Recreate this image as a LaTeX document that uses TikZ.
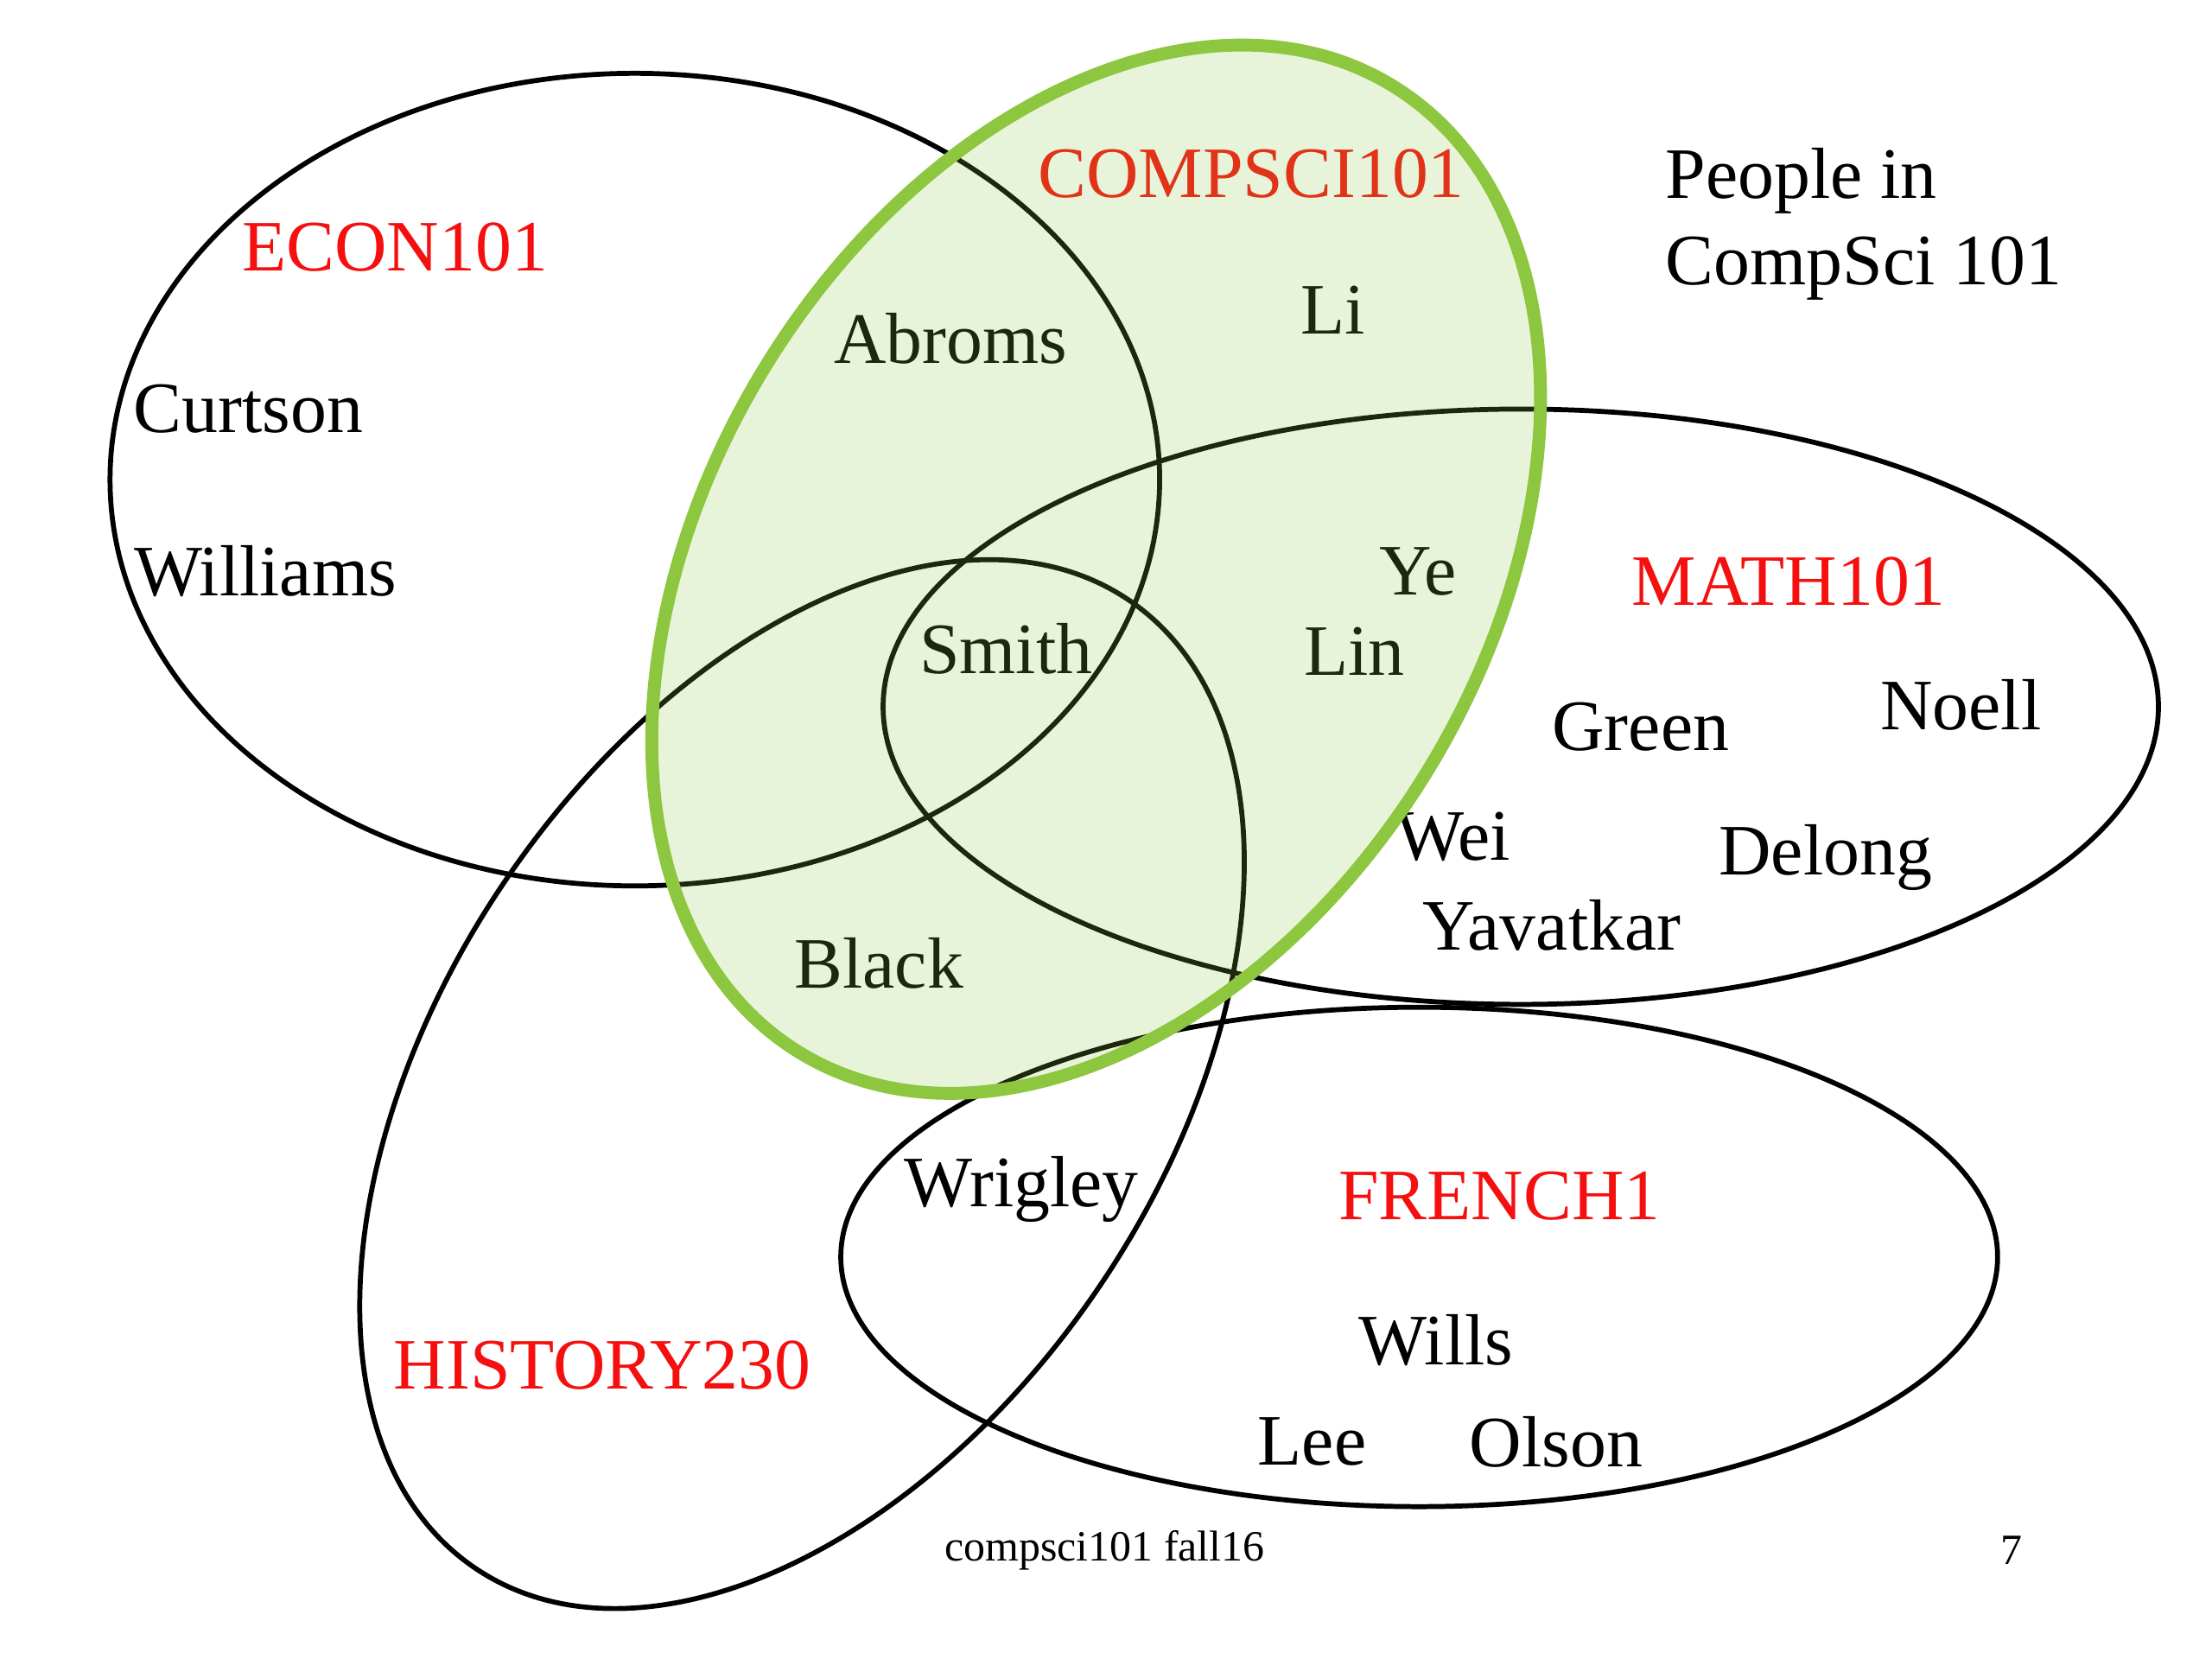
\documentclass[tikz,border=0pt]{standalone}
\usepackage{fontspec}
\setmainfont{Liberation Serif}
\definecolor{csgreen}{RGB}{141,198,63}
\definecolor{lblred}{RGB}{245,15,15}
\tikzset{
  setline/.style={draw=black, line width=1pt},
  person/.style={inner sep=0pt, font=\fontsize{14.6}{17.5}\selectfont},
  course/.style={person, text=lblred},
  foot/.style={inner sep=0pt, font=\fontsize{8.7}{10}\selectfont}
}
\begin{document}
\begin{tikzpicture}
\useasboundingbox (0,0) rectangle (15.68,11.76);
% sets
\draw[setline] (4.50,8.36) ellipse [x radius=3.72, y radius=2.88];
\draw[setline] (10.78,6.75) ellipse [x radius=4.52, y radius=2.11];
\draw[setline] (5.685,4.075) ellipse [x radius=4.14, y radius=2.55, rotate=56];
\draw[setline] (10.06,2.85) ellipse [x radius=4.10, y radius=1.77];
% course labels
\node[course] (econ) at (2.80,10.01) {ECON101};
\node[course] (cs) at (8.87,10.53) {COMPSCI101};
\node[course] (math) at (12.68,7.64) {MATH101};
\node[course] (french) at (10.63,3.28) {FRENCH1};
\node[course] (hist) at (4.27,2.08) {HISTORY230};
% title
\node[person, anchor=base west, align=left] (title) at (11.80,9.74) {People in\\CompSci 101};
% people
\node[person] (curtson) at (1.76,8.86) {Curtson};
\node[person] (williams) at (1.88,7.71) {Williams};
\node[person] (abroms) at (6.74,9.36) {Abroms};
\node[person] (li) at (9.45,9.56) {Li};
\node[person] (ye) at (10.05,7.71) {Ye};
\node[person] (lin) at (9.60,7.14) {Lin};
\node[person] (smith) at (7.13,7.16) {Smith};
\node[person] (green) at (11.63,6.61) {Green};
\node[person] (noell) at (13.90,6.76) {Noell};
\node[person] (wei) at (10.30,5.83) {Wei};
\node[person] (delong) at (12.94,5.68) {Delong};
\node[person] (yavatkar) at (11.00,5.20) {Yavatkar};
\node[person] (black) at (6.23,4.93) {Black};
\node[person] (wrigley) at (7.24,3.33) {Wrigley};
\node[person] (wills) at (10.18,2.26) {Wills};
\node[person] (lee) at (9.30,1.54) {Lee};
\node[person] (olson) at (11.03,1.54) {Olson};
% CompSci 101 set, tinted over what lies beneath
\draw[draw=csgreen, line width=2.6pt, fill=csgreen, fill opacity=0.2] (7.77,7.725) ellipse [x radius=4.02, y radius=2.75, rotate=58.4];
% footer
\node[foot] (footer) at (7.83,0.77) {compsci101 fall16};
\node[foot] (page) at (14.26,0.77) {7};
\end{tikzpicture}
\end{document}
